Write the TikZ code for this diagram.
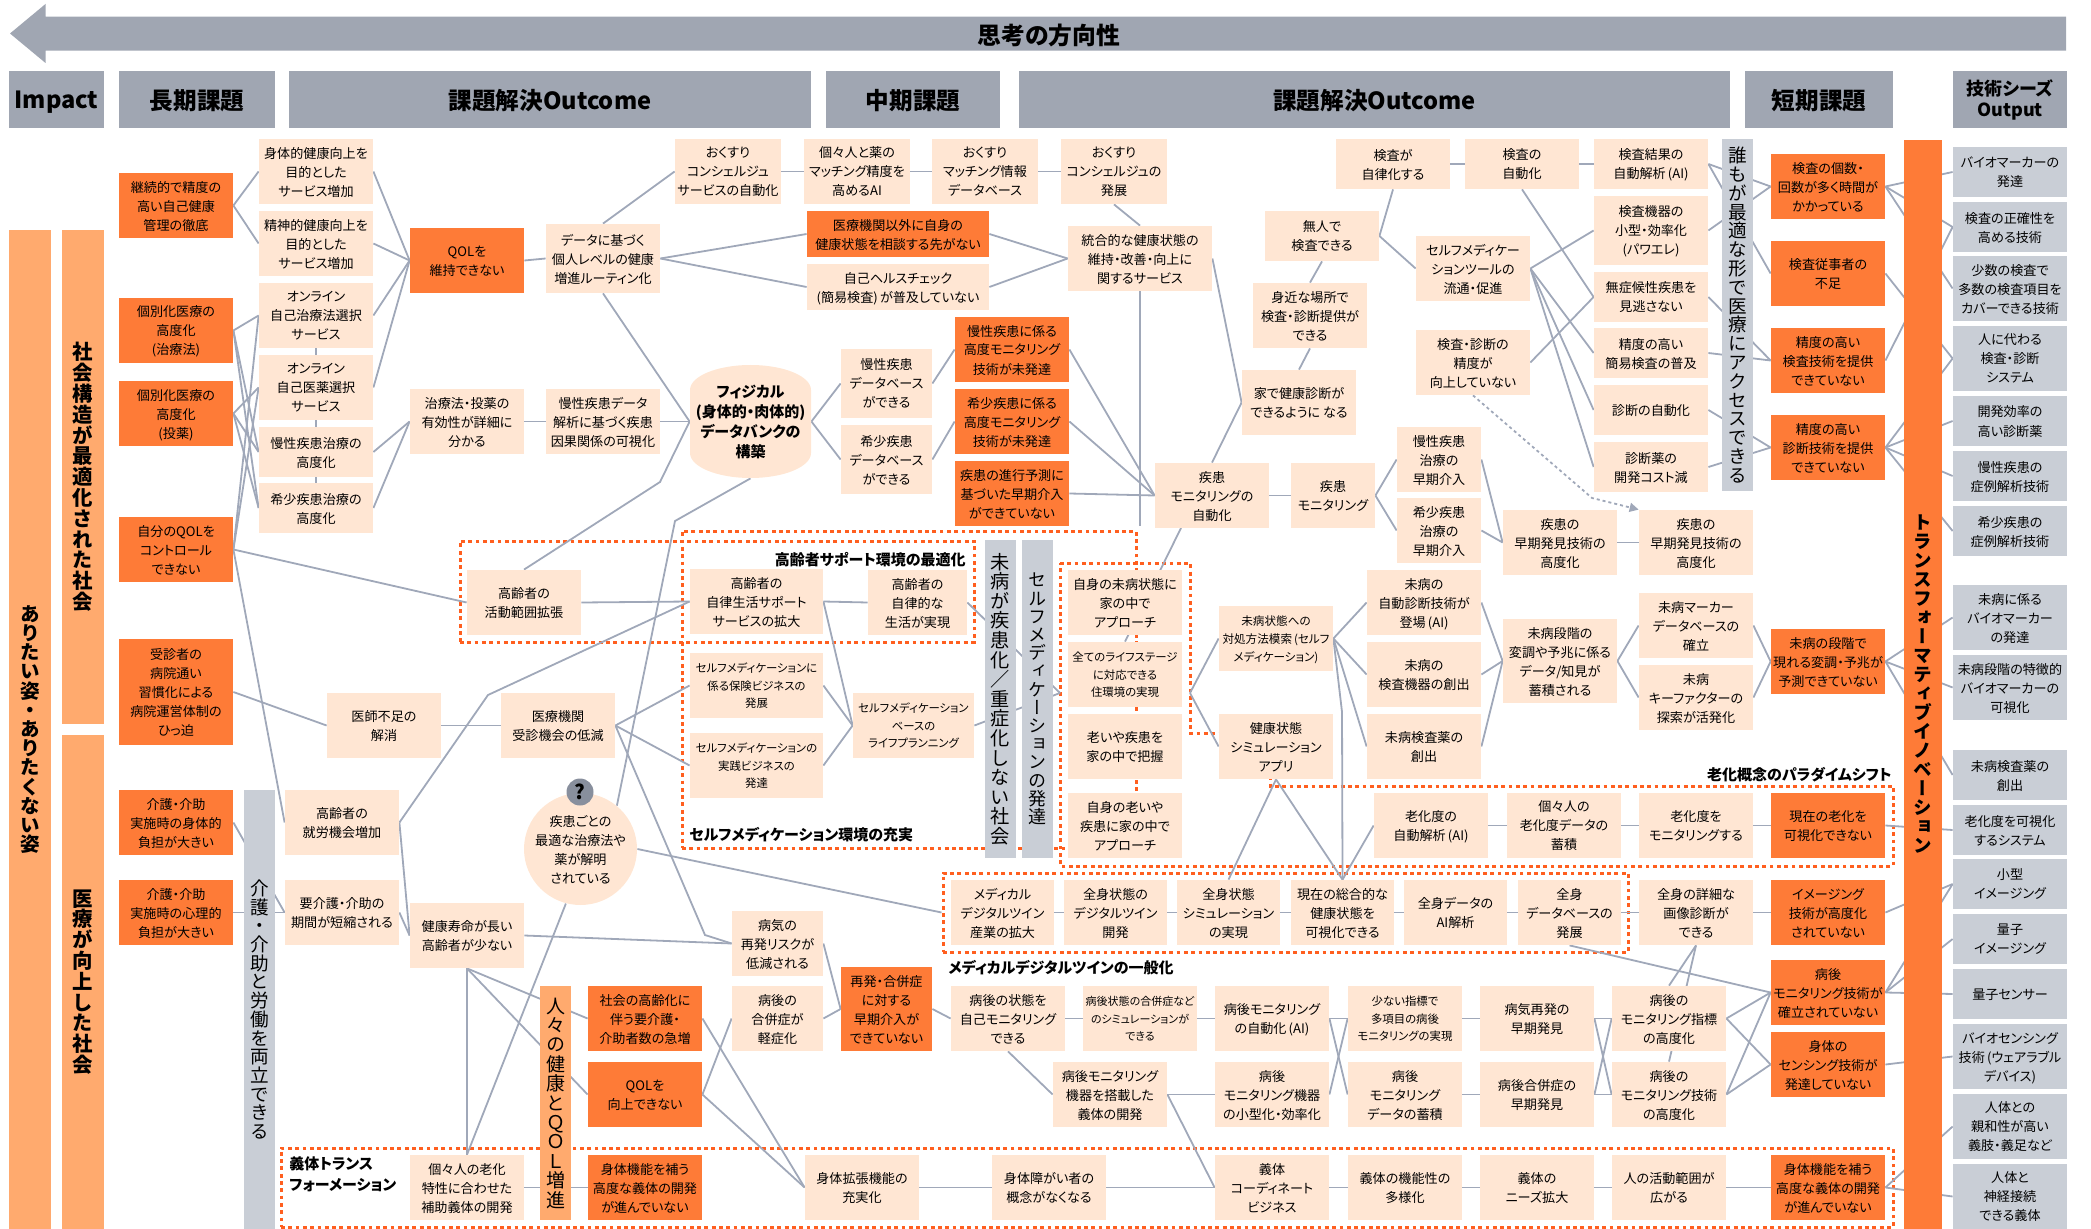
\documentclass[tikz,border=0pt]{standalone}
\usepackage{fontspec}
\setmainfont[RawFeature={+palt}]{Noto Sans CJK JP}
\newfontfamily\tatefont[RawFeature={+vert}]{Noto Sans CJK JP}
\usetikzlibrary{
    positioning,
    arrows.meta,
    shapes.geometric,
    backgrounds
}
\makeatletter
\newcommand{\tate}[2]{\vbox{\baselineskip=#1\lineskiplimit=-100pt\relax\@tfor\tate@c:=#2\do{\hbox to 1em{\hss\tate@c\hss}}}}
\makeatother
\definecolor{kadaiorange}{HTML}{FE7B37}
\definecolor{outcomepeach}{HTML}{FFE6D3}
\definecolor{barorange}{HTML}{FFAA6E}
\definecolor{headgrey}{HTML}{A0A6B2}
\definecolor{seedgrey}{HTML}{C9CED6}
\definecolor{linegrey}{HTML}{A0A8B9}
\definecolor{dotorange}{HTML}{FF5F1F}
\tikzset{
    sz/.style 2 args={minimum width=#1*0.5pt, minimum height=#2*0.5pt},
    textdown/.style={execute at begin node={\rule{0pt}{#1}}},
    basebox/.style={
        rectangle, inner sep=0pt, align=center, sz={114}{65}, text depth=0pt,
        font=\fontsize{6.55}{9.5}\selectfont
    },
    kadai/.style={basebox, fill=kadaiorange},
    outcome/.style={basebox, fill=outcomepeach},
    seed/.style={basebox, fill=seedgrey},
    smalltext/.style={font=\fontsize{5.7}{8.7}\selectfont},
    headbox/.style={
        rectangle, inner sep=0pt, fill=headgrey, align=center, sz={100}{57}, textdown=0.98em,
        font=\fontsize{11.8}{13}\selectfont\bfseries
    },
    zonetitle/.style={inner sep=0pt, align=left, textdown=1.08em, font=\fontsize{7.5}{10.5}\selectfont\bfseries},
    tatebar/.style={rectangle, inner sep=0pt, fill=seedgrey, font=\fontsize{9.3}{10}\tatefont},
    link/.style={draw=linegrey, line width=0.9pt},
    dotzone/.style={draw=dotorange, line width=1.5pt, dash pattern=on 1.9pt off 1.75pt},
    dashlink/.style={draw=linegrey, line width=0.9pt, dash pattern=on 1.5pt off 1.5pt, -{Triangle[length=4.5pt,width=4.5pt]}}
}
\begin{document}
\begin{tikzpicture}[x=0.5pt, y=-0.5pt]
    \useasboundingbox (0,0) rectangle (2091,1229);

    % DIRECTION ARROW
    \fill[headgrey] (10,33.5) -- (45.5,4) -- (45.5,16.7) -- (2066,16.7) -- (2066,50.7) -- (45.5,50.7) -- (45.5,63) -- cycle;
    \node[textdown=1em, font=\fontsize{11.9}{13}\selectfont\bfseries] (direction) at (1049,33.5) {思考の方向性};

    % HEADERS
    \node[headbox, sz={95}{57}] (head_impact) at (56.5,99.5) {Impact};
    \node[headbox, sz={156}{57}] (head_long) at (197,99.5) {長期課題};
    \node[headbox, sz={522}{57}] (head_out1) at (550,99.5) {課題解決Outcome};
    \node[headbox, sz={174}{57}] (head_mid) at (913,99.5) {中期課題};
    \node[headbox, sz={711}{57}] (head_out2) at (1374.5,99.5) {課題解決Outcome};
    \node[headbox, sz={148}{57}] (head_short) at (1819,99.5) {短期課題};
    \node[headbox, sz={114}{57}, font=\fontsize{9}{10.5}\selectfont\bfseries] (head_seed) at (2010,99.5) {技術シーズ\\Output};

    % VERTICAL BARS
    \node[tatebar, sz={42}{999}, fill=barorange, font=\fontsize{9.8}{10}\tatefont\bfseries] (bar_ideal) at (30,729.5) {\tate{9.6pt}{ありたい姿・ありたくない姿}};
    \node[tatebar, sz={42}{494}, fill=barorange, font=\fontsize{10.2}{11}\tatefont\bfseries] (bar_society) at (83,477) {\tate{10.4pt}{社会構造が最適化された社会}};
    \node[tatebar, sz={42}{494}, fill=barorange, font=\fontsize{10.2}{11}\tatefont\bfseries] (bar_medical) at (83,982) {\tate{10.4pt}{医療が向上した社会}};
    \node[tatebar, sz={31}{439}] (bar_care) at (259.5,1009.5) {\tate{9.35pt}{介護・介助と労働を両立できる}};
    \node[tatebar, sz={31}{234}, fill=barorange, font=\fontsize{9.5}{10}\tatefont] (bar_qol) at (555.5,1103) {\tate{9.7pt}{人々の健康とＱＯＬ増進}};
    \node[tatebar, sz={31}{318}, font=\fontsize{9.6}{10}\tatefont] (bar_mibyo) at (1000.5,699) {\tate{9.8pt}{未病が疾患化／重症化しない社会}};
    \node[tatebar, sz={31}{318}, font=\fontsize{9}{10}\tatefont] (bar_selfmed) at (1037.5,699) {\tate{9.1pt}{セルフメディケーションの発達}};
    \node[tatebar, sz={31}{352}] (bar_access) at (1737.5,315) {\tate{9.4pt}{誰もが最適な形で医療にアクセスできる}};
    \node[tatebar, sz={38}{1089}, fill=kadaiorange, font=\fontsize{9.3}{10}\tatefont\bfseries] (bar_trans) at (1923,684.5) {\tate{9.5pt}{トランスフォーマティブイノベーション}};

    % LONG TERM ISSUES
    \node[kadai] (k_keizoku) at (176,205.5) {継続的で精度の\\高い自己健康\\管理の徹底};
    \node[kadai] (k_cure) at (176,330.5) {個別化医療の\\高度化\\(治療法)};
    \node[kadai] (k_drug) at (176,413.5) {個別化医療の\\高度化\\(投薬)};
    \node[kadai] (k_qolctrl) at (176,549.5) {自分のQOLを\\コントロール\\できない};
    \node[kadai, sz={114}{106}] (k_visit) at (176,692) {受診者の\\病院通い\\習慣化による\\病院運営体制の\\ひっ迫};
    \node[kadai] (k_body) at (176,822.5) {介護・介助\\実施時の身体的\\負担が大きい};
    \node[kadai] (k_mind) at (176,912.5) {介護・介助\\実施時の心理的\\負担が大きい};

    % OUTCOME LEFT
    \node[outcome] (o_physical) at (316,171.5) {身体的健康向上を\\目的とした\\サービス増加};
    \node[outcome] (o_mental) at (316,243.5) {精神的健康向上を\\目的とした\\サービス増加};
    \node[outcome] (o_online1) at (316,315.5) {オンライン\\自己治療法選択\\サービス};
    \node[outcome] (o_online2) at (316,387.5) {オンライン\\自己医薬選択\\サービス};
    \node[outcome, sz={114}{50}] (o_chronic) at (316,452) {慢性疾患治療の\\高度化};
    \node[outcome, sz={114}{50}] (o_rare) at (316,508) {希少疾患治療の\\高度化};
    \node[kadai] (k_qolkeep) at (467,260.5) {QOLを\\維持できない};
    \node[outcome, sz={114}{69}] (o_routine) at (603,258.5) {データに基づく\\個人レベルの健康\\増進ルーティン化};
    \node[outcome] (o_effect) at (467,421.5) {治療法・投薬の\\有効性が詳細に\\分かる};
    \node[outcome] (o_analysis) at (603,421.5) {慢性疾患データ\\解析に基づく疾患\\因果関係の可視化};
    \node[outcome] (o_range) at (524,602.5) {高齢者の\\活動範囲拡張};
    \node[outcome] (o_doctor) at (384,725.5) {医師不足の\\解消};
    \node[outcome] (o_hospital) at (558,725.5) {医療機関\\受診機会の低減};
    \node[outcome] (o_work) at (342,822.5) {高齢者の\\就労機会増加};
    \node[outcome] (o_carespan) at (342,912.5) {要介護・介助の\\期間が短縮される};
    \node[outcome] (o_healthy) at (467,935.5) {健康寿命が長い\\高齢者が少ない};
    \node[outcome] (o_aging) at (467,1187.5) {個々人の老化\\特性に合わせた\\補助義体の開発};
    \node[kadai] (k_rapid) at (645,1018.5) {社会の高齢化に\\伴う要介護・\\介助者数の急増};
    \node[kadai] (k_qolup) at (645,1094.5) {QOLを\\向上できない};
    \node[kadai] (k_prosth1) at (645,1187.5) {身体機能を補う\\高度な義体の開発\\が進んでいない};

    % ELLIPSE AND DATABANK
    \node[ellipse, inner sep=-6pt, fill=outcomepeach, align=center, sz={113}{112}, text depth=0pt, font=\fontsize{6.55}{9.5}\selectfont] (o_solved) at (580.5,849) {疾患ごとの\\最適な治療法や\\薬が解明\\されている};
    \node[circle, inner sep=0pt, fill=linegrey!85!black, minimum size=13.5pt, font=\fontsize{10}{11}\selectfont\bfseries] (o_question) at (580,792) {?};
    \fill[outcomepeach] (690,390) arc[start angle=180, end angle=360, x radius=60.5, y radius=25] -- (811,453) arc[start angle=0, end angle=180, x radius=60.5, y radius=25] -- cycle;
    \node[inner sep=0pt, align=center, sz={121}{113}, text depth=0pt, font=\fontsize{7.5}{10}\selectfont\bfseries] (o_databank) at (750.5,421.5) {フィジカル\\(身体的・肉体的)\\データバンクの\\構築};

    % MIDDLE ROW TOP
    \node[outcome, sz={106}{65}] (o_concierge) at (728,171.5) {おくすり\\コンシェルジュ\\サービスの自動化};
    \node[outcome, sz={106}{65}] (o_matchai) at (857,171.5) {個々人と薬の\\マッチング精度を\\高めるAI};
    \node[outcome, sz={106}{65}] (o_matchdb) at (985,171.5) {おくすり\\マッチング情報\\データベース};
    \node[outcome, sz={106}{65}] (o_conciergedev) at (1114,171.5) {おくすり\\コンシェルジュの\\発展};
    \node[kadai, sz={182}{46}] (k_consult) at (898,234) {医療機関以外に自身の\\健康状態を相談する先がない};
    \node[outcome, sz={182}{46}] (o_selfcheck) at (898,287) {自己ヘルスチェック\\(簡易検査)\,が普及していない};
    \node[outcome, sz={144}{65}] (o_service) at (1140,258.5) {統合的な健康状態の\\維持・改善・向上に\\関するサービス};
    \node[kadai] (k_chronicmon) at (1012,349.5) {慢性疾患に係る\\高度モニタリング\\技術が未発達};
    \node[kadai] (k_raremon) at (1012,421.5) {希少疾患に係る\\高度モニタリング\\技術が未発達};
    \node[kadai] (k_predict) at (1012,493.5) {疾患の進行予測に\\基づいた早期介入\\ができていない};
    \node[outcome, sz={91}{69}] (o_chronicdb) at (886.5,383.5) {慢性疾患\\データベース\\ができる};
    \node[outcome, sz={91}{69}] (o_raredb) at (886.5,459.5) {希少疾患\\データベース\\ができる};

    % SENIOR AND SELF MEDICATION
    \node[outcome, sz={133}{65}] (o_seniorsup) at (756.5,601.5) {高齢者の\\自律生活サポート\\サービスの拡大};
    \node[outcome, sz={99}{65}] (o_seniorlife) at (917.5,602.5) {高齢者の\\自律的な\\生活が実現};
    \node[outcome, smalltext, sz={133}{65}] (o_insurance) at (756.5,685.5) {セルフメディケーションに\\係る保険ビジネスの\\発展};
    \node[outcome, smalltext, sz={133}{65}] (o_business) at (756.5,765.5) {セルフメディケーションの\\実践ビジネスの\\発達};
    \node[outcome, smalltext, sz={121}{65}] (o_lifeplan) at (913.5,725.5) {セルフメディケーション\\ベースの\\ライフプランニング};
    \node[outcome] (o_homemibyo) at (1125,602.5) {自身の未病状態に\\家の中で\\アプローチ};
    \node[outcome, smalltext] (o_lifestage) at (1125,674.5) {全てのライフステージ\\に対応できる\\住環境の実現};
    \node[outcome] (o_homeaging) at (1125,746.5) {老いや疾患を\\家の中で把握};
    \node[outcome] (o_homeappr) at (1125,825.5) {自身の老いや\\疾患に家の中で\\アプローチ};
    \node[outcome, font=\fontsize{5.8}{9}\selectfont] (o_coping) at (1276,638.5) {未病状態への\\対処方法模索\,(セルフ\\メディケーション)};
    \node[outcome] (o_simapp) at (1276,746.5) {健康状態\\シミュレーション\\アプリ};

    % OUTCOME RIGHT TOP
    \node[outcome, sz={114}{50}] (o_autonomous) at (1393,164) {検査が\\自律化する};
    \node[outcome, sz={114}{50}] (o_testauto) at (1522,164) {検査の\\自動化};
    \node[outcome, sz={114}{50}] (o_testresult) at (1651,164) {検査結果の\\自動解析\,(AI)};
    \node[outcome, sz={114}{50}] (o_unmanned) at (1322,236) {無人で\\検査できる};
    \node[outcome] (o_nearby) at (1310,315.5) {身近な場所で\\検査・診断提供が\\できる};
    \node[outcome] (o_athome) at (1299,402.5) {家で健康診断が\\できるように なる};
    \node[outcome] (o_tool) at (1473,268.5) {セルフメディケー\\ションツールの\\流通・促進};
    \node[outcome] (o_accuracy) at (1473,362.5) {検査・診断の\\精度が\\向上していない};
    \node[outcome, sz={114}{69}] (o_device) at (1651,230.5) {検査機器の\\小型・効率化\\(パワエレ)};
    \node[outcome, sz={114}{50}] (o_asympt) at (1651,297) {無症候性疾患を\\見逃さない};
    \node[outcome, sz={114}{50}] (o_simple) at (1651,353) {精度の高い\\簡易検査の普及};
    \node[outcome, sz={114}{50}] (o_diagauto) at (1651,410) {診断の自動化};
    \node[outcome, sz={114}{50}] (o_diagdrug) at (1651,467) {診断薬の\\開発コスト減};
    \node[outcome] (o_monauto) at (1212,495.5) {疾患\\モニタリングの\\自動化};
    \node[outcome, sz={84}{65}] (o_monitor) at (1333,495.5) {疾患\\モニタリング};
    \node[outcome, sz={84}{65}] (o_chronicearly) at (1439,459.5) {慢性疾患\\治療の\\早期介入};
    \node[outcome, sz={84}{65}] (o_rareearly) at (1439,530.5) {希少疾患\\治療の\\早期介入};
    \node[outcome] (o_detect1) at (1560,542.5) {疾患の\\早期発見技術の\\高度化};
    \node[outcome] (o_detect2) at (1696,542.5) {疾患の\\早期発見技術の\\高度化};

    % MIBYO
    \node[outcome] (o_mibyoauto) at (1424,602.5) {未病の\\自動診断技術が\\登場\,(AI)};
    \node[outcome] (o_mibyodev) at (1424,674.5) {未病の\\検査機器の創出};
    \node[outcome] (o_mibyodrug) at (1424,746.5) {未病検査薬の\\創出};
    \node[outcome, sz={114}{84}] (o_mibyodata) at (1560,661) {未病段階の\\変調や予兆に係る\\データ/知見が\\蓄積される};
    \node[outcome] (o_mibyomark) at (1696,625.5) {未病マーカー\\データベースの\\確立};
    \node[outcome] (o_mibyokey) at (1696,697.5) {未病\\キーファクターの\\探索が活発化};

    % AGING ROW
    \node[outcome] (o_agingai) at (1431,825.5) {老化度の\\自動解析\,(AI)};
    \node[outcome] (o_agingdata) at (1564,825.5) {個々人の\\老化度データの\\蓄積};
    \node[outcome] (o_agingmon) at (1696,825.5) {老化度を\\モニタリングする};

    % DIGITAL TWIN ROW
    \node[outcome, sz={103}{65}] (o_dtindustry) at (1002.5,912.5) {メディカル\\デジタルツイン\\産業の拡大};
    \node[outcome, sz={103}{65}] (o_dtbody) at (1115.5,912.5) {全身状態の\\デジタルツイン\\開発};
    \node[outcome, sz={103}{65}] (o_dtsim) at (1228.5,912.5) {全身状態\\シミュレーション\\の実現};
    \node[outcome, sz={103}{65}] (o_dtnow) at (1342.5,912.5) {現在の総合的な\\健康状態を\\可視化できる};
    \node[outcome, sz={103}{65}] (o_dtai) at (1455.5,912.5) {全身データの\\AI解析};
    \node[outcome, sz={103}{65}] (o_dtdb) at (1569.5,912.5) {全身\\データベースの\\発展};
    \node[outcome] (o_imagediag) at (1696,912.5) {全身の詳細な\\画像診断が\\できる};

    % POST ILLNESS ROWS
    \node[outcome, sz={91}{65}] (o_recur) at (777.5,943.5) {病気の\\再発リスクが\\低減される};
    \node[outcome, sz={91}{65}] (o_compl) at (777.5,1018.5) {病後の\\合併症が\\軽症化};
    \node[kadai, sz={91}{84}] (k_recur) at (886.5,1009) {再発・合併症\\に対する\\早期介入が\\できていない};
    \node[outcome] (o_selfmon) at (1008,1018.5) {病後の状態を\\自己モニタリング\\できる};
    \node[outcome, font=\fontsize{5.5}{8.7}\selectfont] (o_complsim) at (1140,1018.5) {病後状態の合併症など\\のシミュレーションが\\できる};
    \node[outcome] (o_monai) at (1272,1018.5) {病後モニタリング\\の自動化\,(AI)};
    \node[outcome, smalltext] (o_fewind) at (1405,1018.5) {少ない指標で\\多項目の病後\\モニタリングの実現};
    \node[outcome] (o_recurearly) at (1537,1018.5) {病気再発の\\早期発見};
    \node[outcome] (o_indicator) at (1669,1018.5) {病後の\\モニタリング指標\\の高度化};
    \node[outcome] (o_monprosth) at (1110,1094.5) {病後モニタリング\\機器を搭載した\\義体の開発};
    \node[outcome] (o_mondev) at (1272,1094.5) {病後\\モニタリング機器\\の小型化・効率化};
    \node[outcome] (o_mondata) at (1405,1094.5) {病後\\モニタリング\\データの蓄積};
    \node[outcome] (o_complearly) at (1537,1094.5) {病後合併症の\\早期発見};
    \node[outcome] (o_montech) at (1669,1094.5) {病後の\\モニタリング技術\\の高度化};

    % PROSTHESIS ROW
    \node[outcome] (o_extend) at (862,1187.5) {身体拡張機能の\\充実化};
    \node[outcome] (o_nobarrier) at (1049,1187.5) {身体障がい者の\\概念がなくなる};
    \node[outcome] (o_coord) at (1272,1187.5) {義体\\コーディネート\\ビジネス};
    \node[outcome] (o_variety) at (1405,1187.5) {義体の機能性の\\多様化};
    \node[outcome] (o_needs) at (1537,1187.5) {義体の\\ニーズ拡大};
    \node[outcome] (o_activity) at (1669,1187.5) {人の活動範囲が\\広がる};

    % SHORT TERM ISSUES
    \node[kadai] (k_count) at (1828,186.5) {検査の個数・\\回数が多く時間が\\かかっている};
    \node[kadai] (k_staff) at (1828,273.5) {検査従事者の\\不足};
    \node[kadai] (k_testtech) at (1828,360.5) {精度の高い\\検査技術を提供\\できていない};
    \node[kadai] (k_diagtech) at (1828,447.5) {精度の高い\\診断技術を提供\\できていない};
    \node[kadai] (k_mibyo) at (1828,661.5) {未病の段階で\\現れる変調・予兆が\\予測できていない};
    \node[kadai] (k_aging) at (1828,825.5) {現在の老化を\\可視化できない};
    \node[kadai] (k_imaging) at (1828,912.5) {イメージング\\技術が高度化\\されていない};
    \node[kadai] (k_montech) at (1828,992.5) {病後\\モニタリング技術が\\確立されていない};
    \node[kadai] (k_sensing) at (1828,1064.5) {身体の\\センシング技術が\\発達していない};
    \node[kadai] (k_prosth2) at (1828,1187.5) {身体機能を補う\\高度な義体の開発\\が進んでいない};

    % TECHNOLOGY SEEDS
    \node[seed, sz={114}{50}] (s_biomarker) at (2010,172) {バイオマーカーの\\発達};
    \node[seed, sz={114}{50}] (s_correct) at (2010,227) {検査の正確性を\\高める技術};
    \node[seed] (s_multi) at (2010,288.5) {少数の検査で\\多数の検査項目を\\カバーできる技術};
    \node[seed] (s_system) at (2010,358.5) {人に代わる\\検査・診断\\システム};
    \node[seed, sz={114}{50}] (s_drugdev) at (2010,421) {開発効率の\\高い診断薬};
    \node[seed, sz={114}{50}] (s_chronic) at (2010,476) {慢性疾患の\\症例解析技術};
    \node[seed, sz={114}{50}] (s_rare) at (2010,531) {希少疾患の\\症例解析技術};
    \node[seed] (s_mibyomark) at (2010,617.5) {未病に係る\\バイオマーカー\\の発達};
    \node[seed] (s_mibyovis) at (2010,687.5) {未病段階の特徴的\\バイオマーカーの\\可視化};
    \node[seed, sz={114}{50}] (s_mibyodrug) at (2010,775) {未病検査薬の\\創出};
    \node[seed, sz={114}{50}] (s_agingsys) at (2010,830) {老化度を可視化\\するシステム};
    \node[seed, sz={114}{50}] (s_compact) at (2010,884) {小型\\イメージング};
    \node[seed, sz={114}{50}] (s_quantimg) at (2010,939) {量子\\イメージング};
    \node[seed, sz={114}{50}] (s_quantsens) at (2010,994) {量子センサー};
    \node[seed] (s_biosens) at (2010,1056.5) {バイオセンシング\\技術\,(ウェアラブル\\デバイス)};
    \node[seed] (s_limb) at (2010,1126.5) {人体との\\親和性が高い\\義肢・義足など};
    \node[seed] (s_neural) at (2010,1196.5) {人体と\\神経接続\\できる義体};

    % ZONE TITLES
    \node[zonetitle, anchor=east] (t_senior) at (966,558) {高齢者サポート環境の最適化};
    \node[zonetitle, anchor=west] (t_selfmed) at (689,833) {セルフメディケーション環境の充実};
    \node[zonetitle, anchor=west] (t_dt) at (948,966) {メディカルデジタルツインの一般化};
    \node[zonetitle, anchor=east] (t_aging) at (1892,773) {老化概念のパラダイムシフト};
    \node[zonetitle, anchor=west] (t_prosth) at (289,1174.5) {義体トランス\\フォーメーション};

    % Free ends of the connectors
    \coordinate (home_west) at (1060,693);
    \coordinate (home_east) at (1190,693);
    \coordinate (service_end) at (1140,526);
    \coordinate (bend_range) at (660,482);
    \coordinate (bend_solved) at (675,521);
    \coordinate (bend_work) at (488,695);
    \coordinate (bend_hospital) at (705,935);
    \coordinate (bend_coping) at (1342,712);
    \coordinate (bend_dash) at (1592,498);
    \coordinate (mon_south) at (1181,528);

    \begin{scope}[on background layer]
        % Dotted zones
        \node[dotzone, sz={514}{101}] (zone_senior) at (717,591.5) {};
        \node[dotzone, sz={454}{317}] (zone_selfmed) at (909,689.5) {};
        \node[dotzone, sz={685}{79}] (zone_dt) at (1285.5,912.5) {};
        \node[dotzone, sz={1612}{79}] (zone_prosth) at (1087,1187.5) {};
        \draw[dotzone] (1060,563) -- (1190,563) -- (1190,733) -- (1270,733) -- (1270,786) -- (1893,786) -- (1893,866) -- (1060,866) -- cycle;

        % Long term -> left outcomes
        \draw[link] (k_keizoku.east) -- (o_physical.west);
        \draw[link] (k_keizoku.east) -- (o_mental.west);
        \draw[link] (k_cure.east) -- (o_online1.west);
        \draw[link] (k_cure.east) -- (o_chronic.west);
        \draw[link] (k_cure.east) -- (o_rare.west);
        \draw[link] (k_drug.east) -- (o_online2.west);
        \draw[link] (k_drug.east) -- (o_chronic.west);
        \draw[link] (k_drug.east) -- (o_rare.west);
        \draw[link] (k_qolctrl.east) -- (o_online1.west);
        \draw[link] (k_qolctrl.east) -- (o_online2.west);
        \draw[link] (k_qolctrl.east) -- (o_range.west);
        \draw[link] (k_qolctrl.east) -- (o_work.west);
        \draw[link] (o_online1.south) -- (o_online2.north);
        \draw[link] (o_online2.south) -- (o_chronic.north);
        \draw[link] (o_chronic.south) -- (o_rare.north);
        \draw[link] (k_visit.east) -- (o_doctor.west);
        \draw[link] (k_body.east) -- (o_carespan.west);
        \draw[link] (k_mind.east) -- (o_carespan.west);

        % Toward QOL and the data bank
        \draw[link] (o_physical.east) -- (k_qolkeep.west);
        \draw[link] (o_mental.east) -- (k_qolkeep.west);
        \draw[link] (o_online1.east) -- (k_qolkeep.west);
        \draw[link] (o_online2.east) -- (k_qolkeep.west);
        \draw[link] (o_chronic.east) -- (o_effect.west);
        \draw[link] (o_rare.east) -- (o_effect.west);
        \draw[link] (k_qolkeep.east) -- (o_routine.west);
        \draw[link] (o_effect.east) -- (o_analysis.west);
        \draw[link] (o_analysis.east) -- (o_databank.west);
        \draw[link] (o_routine.north) -- (o_concierge.west);
        \draw[link] (o_routine.east) -- (k_consult.west);
        \draw[link] (o_routine.east) -- (o_selfcheck.west);
        \draw[link] (o_routine.south) -- (o_databank.west);
        \draw[link] (o_databank.west) -- (bend_range) -- (o_range.north);
        \draw[link] (o_databank.south) -- (bend_solved) -- (o_solved.50);

        % Top row
        \draw[link] (o_concierge.east) -- (o_matchai.west);
        \draw[link] (o_matchai.east) -- (o_matchdb.west);
        \draw[link] (o_matchdb.east) -- (o_conciergedev.west);
        \draw[link] (o_conciergedev.south) -- (o_service.north);
        \draw[link] (k_consult.east) -- (o_service.west);
        \draw[link] (o_selfcheck.east) -- (o_service.west);
        \draw[link] (o_service.south) -- (service_end);
        \draw[link] (o_service.east) -- (o_athome.west);
        \draw[link] (o_athome.west) -- (o_monauto.north);
        \draw[link] (o_athome.north) -- (o_nearby.south);
        \draw[link] (o_nearby.north) -- (o_unmanned.south);
        \draw[link] (o_autonomous.south) -- (o_unmanned.east);
        \draw[link] (o_unmanned.east) -- (o_tool.west);

        % Data bank -> monitoring
        \draw[link] (o_databank.east) -- (o_chronicdb.west);
        \draw[link] (o_databank.east) -- (o_raredb.west);
        \draw[link] (o_chronicdb.east) -- (k_chronicmon.west);
        \draw[link] (o_raredb.east) -- (k_raremon.west);
        \draw[link] (k_chronicmon.east) -- (o_monauto.west);
        \draw[link] (k_raremon.east) -- (o_monauto.west);
        \draw[link] (k_predict.east) -- (o_monauto.west);
        \draw[link] (o_monauto.east) -- (o_monitor.west);
        \draw[link] (o_monitor.east) -- (o_chronicearly.west);
        \draw[link] (o_monitor.east) -- (o_rareearly.west);
        \draw[link] (o_chronicearly.east) -- (o_detect1.west);
        \draw[link] (o_rareearly.east) -- (o_detect1.west);
        \draw[link] (o_detect1.east) -- (o_detect2.west);
        \draw[link] (o_lifestage.north) -- (mon_south);

        % Senior and self medication
        \draw[link] (o_range.east) -- (o_seniorsup.west);
        \draw[link] (o_work.east) -- (bend_work) -- (o_seniorsup.west);
        \draw[link] (o_seniorsup.east) -- (o_seniorlife.west);
        \draw[link] (o_seniorsup.east) -- (o_lifeplan.west);
        \draw[link] (o_insurance.east) -- (o_lifeplan.west);
        \draw[link] (o_business.east) -- (o_lifeplan.west);
        \draw[link] (o_seniorlife.east) -- (home_west);
        \draw[link] (o_lifeplan.east) -- (home_west);
        \draw[link] (o_doctor.east) -- (o_hospital.west);
        \draw[link] (o_hospital.east) -- (o_insurance.west);
        \draw[link] (o_hospital.east) -- (o_business.west);
        \draw[link] (o_hospital.east) -- (bend_hospital) -- (o_recur.west);
        \draw[link] (home_east) -- (o_coping.west);
        \draw[link] (home_east) -- (o_simapp.west);
        \draw[link] (o_coping.east) -- (o_mibyoauto.west);
        \draw[link] (o_coping.east) -- (o_mibyodev.west);
        \draw[link] (o_coping.east) -- (o_mibyodrug.west);
        \draw[link] (o_coping.east) -- (bend_coping) -- (o_dtnow.north);
        \draw[link] (o_simapp.south) -- (o_dtsim.north);
        \draw[link] (o_simapp.south) -- (o_dtnow.north);
        \draw[link] (o_agingai.west) -- (o_dtnow.north);
        \draw[link] (o_solved.east) -- (zone_dt.west);

        % Mibyo
        \draw[link] (o_mibyoauto.east) -- (o_mibyodata.west);
        \draw[link] (o_mibyodev.east) -- (o_mibyodata.west);
        \draw[link] (o_mibyodrug.east) -- (o_mibyodata.west);
        \draw[link] (o_mibyodata.east) -- (o_mibyomark.west);
        \draw[link] (o_mibyodata.east) -- (o_mibyokey.west);
        \draw[link] (o_mibyomark.east) -- (k_mibyo.west);
        \draw[link] (o_mibyokey.east) -- (k_mibyo.west);

        % Aging and digital twin rows
        \draw[link] (o_agingai.east) -- (o_agingdata.west);
        \draw[link] (o_agingdata.east) -- (o_agingmon.west);
        \draw[link] (o_agingmon.east) -- (k_aging.west);
        \draw[link] (o_dtindustry.east) -- (o_dtbody.west);
        \draw[link] (o_dtbody.east) -- (o_dtsim.west);
        \draw[link] (o_dtsim.east) -- (o_dtnow.west);
        \draw[link] (o_dtnow.east) -- (o_dtai.west);
        \draw[link] (o_dtai.east) -- (o_dtdb.west);
        \draw[link] (o_dtdb.east) -- (o_imagediag.west);
        \draw[link] (o_imagediag.east) -- (k_imaging.west);
        \draw[link] (o_dtdb.south) -- (k_montech.west);
        \draw[link] (o_imagediag.south) -- (o_indicator.north);
        \draw[link] (o_imagediag.south) -- (o_montech.north);

        % Healthy life span
        \draw[link] (o_work.east) -- (o_healthy.west);
        \draw[link] (o_carespan.east) -- (o_healthy.west);
        \draw[link] (o_healthy.east) -- (o_recur.west);
        \draw[link] (o_healthy.south) -- (o_aging.north);
        \draw[link] (o_healthy.south) -- (k_rapid.west);
        \draw[link] (o_healthy.south) -- (k_qolup.west);
        \draw[link] (o_aging.north) -- (o_solved.255);
        \draw[link] (o_aging.east) -- (k_prosth1.west);
        \draw[link] (k_rapid.east) -- (o_extend.west);
        \draw[link] (k_qolup.east) -- (o_extend.west);
        \draw[link] (k_qolup.east) -- (o_compl.west);

        % Post illness rows
        \draw[link] (o_recur.east) -- (k_recur.west);
        \draw[link] (o_compl.east) -- (k_recur.west);
        \draw[link] (k_recur.east) -- (o_selfmon.west);
        \draw[link] (o_selfmon.east) -- (o_complsim.west);
        \draw[link] (o_complsim.east) -- (o_monai.west);
        \draw[link] (o_monai.east) -- (o_fewind.west);
        \draw[link] (o_fewind.east) -- (o_recurearly.west);
        \draw[link] (o_selfmon.south) -- (o_monprosth.west);
        \draw[link] (o_monprosth.east) -- (o_mondev.west);
        \draw[link] (o_monprosth.east) -- (o_coord.west);
        \draw[link] (o_monai.east) -- (o_mondata.west);
        \draw[link] (o_mondev.east) -- (o_fewind.west);
        \draw[link] (o_mondata.east) -- (o_complearly.west);
        \draw[link] (o_recurearly.east) -- (o_indicator.west);
        \draw[link] (o_recurearly.east) -- (o_montech.west);
        \draw[link] (o_complearly.east) -- (o_indicator.west);
        \draw[link] (o_complearly.east) -- (o_montech.west);
        \draw[link] (o_indicator.east) -- (k_montech.west);
        \draw[link] (o_indicator.east) -- (k_sensing.west);
        \draw[link] (o_montech.east) -- (k_montech.west);
        \draw[link] (o_montech.east) -- (k_sensing.west);

        % Prosthesis row
        \draw[link] (o_extend.east) -- (o_nobarrier.west);
        \draw[link] (o_nobarrier.east) -- (o_coord.west);
        \draw[link] (o_coord.east) -- (o_variety.west);
        \draw[link] (o_variety.east) -- (o_needs.west);
        \draw[link] (o_needs.east) -- (o_activity.west);
        \draw[link] (o_activity.east) -- (k_prosth2.west);

        % Right outcomes -> short term
        \draw[link] (o_autonomous.east) -- (o_testauto.west);
        \draw[link] (o_testauto.east) -- (o_testresult.west);
        \draw[link] (o_testauto.south) -- (o_asympt.west);
        \draw[link] (o_accuracy.east) -- (o_asympt.west);
        \draw[link] (o_tool.east) -- (o_device.west);
        \draw[link] (o_tool.east) -- (o_simple.west);
        \draw[link] (o_tool.east) -- (o_diagauto.west);
        \draw[link] (o_tool.east) -- (o_diagdrug.west);
        \draw[link] (o_testresult.east) -- (k_count.west);
        \draw[link] (o_testresult.east) -- (k_staff.west);
        \draw[link] (o_device.east) -- (k_count.west);
        \draw[link] (o_asympt.east) -- (k_testtech.west);
        \draw[link] (o_simple.east) -- (k_testtech.west);
        \draw[link] (o_diagauto.east) -- (k_diagtech.west);
        \draw[link] (o_diagdrug.east) -- (k_diagtech.west);
        \draw[dashlink] (o_accuracy.south) -- (bend_dash) -- (o_detect2.north west);

        % Short term -> seeds
        \draw[link] (k_count.east) -- (s_biomarker.west);
        \draw[link] (k_count.east) -- (s_correct.west);
        \draw[link] (k_count.east) -- (s_multi.west);
        \draw[link] (k_staff.east) -- (s_system.west);
        \draw[link] (k_testtech.east) -- (s_correct.west);
        \draw[link] (k_diagtech.east) -- (s_system.west);
        \draw[link] (k_diagtech.east) -- (s_drugdev.west);
        \draw[link] (k_diagtech.east) -- (s_chronic.west);
        \draw[link] (k_diagtech.east) -- (s_rare.west);
        \draw[link] (k_mibyo.east) -- (s_mibyomark.west);
        \draw[link] (k_mibyo.east) -- (s_mibyovis.west);
        \draw[link] (k_mibyo.east) -- (s_mibyodrug.west);
        \draw[link] (k_aging.east) -- (s_agingsys.west);
        \draw[link] (k_imaging.east) -- (s_compact.west);
        \draw[link] (k_montech.east) -- (s_compact.west);
        \draw[link] (k_montech.east) -- (s_quantimg.west);
        \draw[link] (k_montech.east) -- (s_quantsens.west);
        \draw[link] (k_sensing.east) -- (s_biosens.west);
        \draw[link] (k_prosth2.east) -- (s_limb.west);
        \draw[link] (k_prosth2.east) -- (s_neural.west);
    \end{scope}

\end{tikzpicture}
\end{document}
